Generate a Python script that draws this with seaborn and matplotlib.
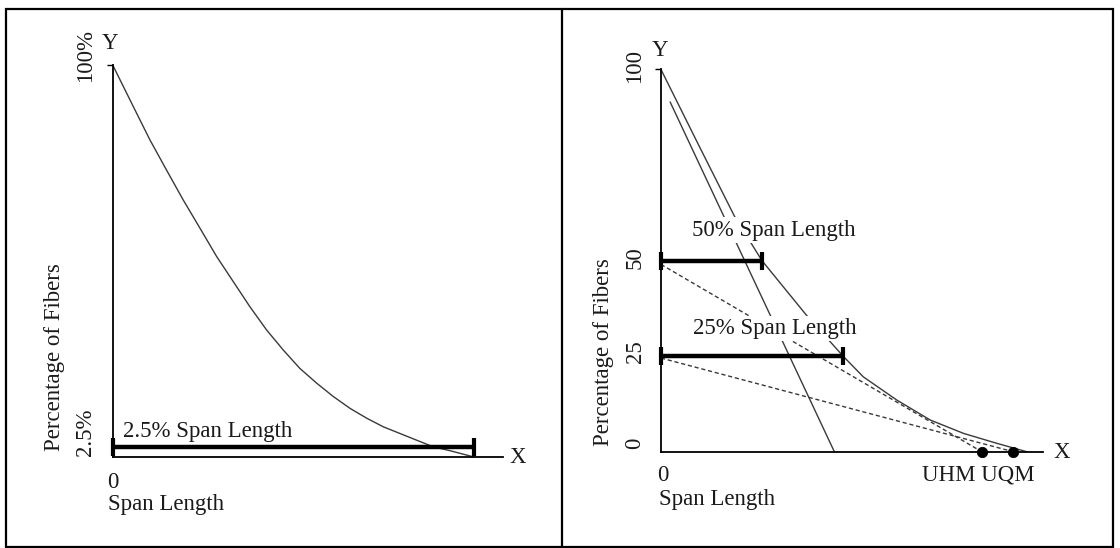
import numpy as np
import pandas as pd
import matplotlib.pyplot as plt
import seaborn as sns
from matplotlib.patches import Rectangle

# left panel: fibrogram curve (x in % of the 2.5% span length, y in % of fibers)
left_x = [0, 5.7, 10.3, 14.9, 19.5, 24.2, 28.8, 33.4, 38.0, 42.6, 47.2, 51.8,
          56.5, 61.1, 65.7, 70.3, 74.9, 79.5, 84.1, 88.7, 93.4, 100]
left_y = [100, 89.4, 80.9, 73.2, 65.6, 58.3, 51.1, 44.7, 38.3, 32.4, 27.3, 22.6,
          18.8, 15.4, 12.4, 9.9, 7.7, 6.0, 4.3, 2.6, 1.6, 0]
left_bar = (2.5, 100)          # (level, span length)

# right panel: fibrogram with tangents
right_x = [0, 10.1, 20.2, 27.6, 39.7, 49.8, 55.3, 64.5, 73.6, 82.7, 91.8, 100]
right_y = [100, 80.6, 61.4, 50, 35.8, 25, 19.6, 13.5, 8.3, 4.8, 2.2, 0]
right_bars = [(50, 27.6), (25, 49.8)]
steep_x = [2.5, 47.4]
steep_y = [91.5, 0]
uhm, uqm = 87.7, 96.3
tangent_uhm = ([0, uhm], [49, 0])
tangent_uqm = ([0, uqm], [24.5, 0])

W, H = 1120, 548
sns.set_theme(style="white")
plt.rcParams['font.family'] = ['Liberation Serif', 'DejaVu Serif']
FS = 16.5
INK = '#1a1a1a'
CURVE = '#3a3a3a'

fig = plt.figure(figsize=(W / 100, H / 100), dpi=100)


def rect(x0, sx, y0, sy, xlim, ylim):
    left = x0 + xlim[0] * sx
    right = x0 + xlim[1] * sx
    top = y0 - ylim[1] * sy
    bottom = y0 - ylim[0] * sy
    return [left / W, 1 - bottom / H, (right - left) / W, (bottom - top) / H]


XL, YL = (-20, 115), (-16, 112)
axL = fig.add_axes(rect(112.7, 3.613, 457, 3.92, XL, YL))
axR = fig.add_axes(rect(661, 3.657, 451.7, 3.822, XL, YL))


def setup(ax, xend):
    ax.set_xlim(*XL)
    ax.set_ylim(*YL)
    ax.patch.set_alpha(0)
    for s in ['top', 'right']:
        ax.spines[s].set_visible(False)
    ax.spines['left'].set_position(('data', 0))
    ax.spines['bottom'].set_position(('data', 0))
    ax.spines['left'].set_bounds(0, 100)
    ax.spines['bottom'].set_bounds(0, xend)
    for s in ['left', 'bottom']:
        ax.spines[s].set_color('black')
        ax.spines[s].set_linewidth(1.3)
    ax.set_xticks([])
    ax.set_yticks([])
    ax.set_yticks([100], minor=True)
    ax.tick_params(axis='y', which='minor', length=4.5, width=1.0,
                   color='black', left=True, direction='out')
    ax.set_xlabel('')
    ax.set_ylabel('')


def span_bar(ax, level, length):
    sns.lineplot(x=[0, length], y=[level, level], ax=ax, color='black',
                 linewidth=3.2, marker='|', markersize=13, markeredgewidth=3,
                 markeredgecolor='black', solid_capstyle='butt', zorder=4)


def txt(ax, x, y, s, masked=False, **kw):
    if masked:
        kw['bbox'] = dict(facecolor='white', edgecolor='none', pad=1.5)
        kw['zorder'] = 6
    ax.text(x, y, s, fontsize=FS, color=INK, **kw)


# ---- left panel
setup(axL, 108)
sns.lineplot(x=left_x, y=left_y, ax=axL, color=CURVE, linewidth=1.0)
span_bar(axL, *left_bar)
txt(axL, -0.75, 105.6, 'Y', ha='center', va='center')
txt(axL, 112.2, -0.25, 'X', ha='center', va='center')
txt(axL, 0.1, -6.4, '0', ha='center', va='center')
txt(axL, -1.3, -12.2, 'Span Length', ha='left', va='center')
txt(axL, 2.85, 6.4, '2.5% Span Length', ha='left', va='center')
txt(axL, -16.2, 25.5, 'Percentage of Fibers', ha='center', va='center', rotation=90)
txt(axL, -7.4, 102.3, '100%', ha='center', va='center', rotation=90)
txt(axL, -7.4, 6.4, '2.5%', ha='center', va='center', rotation=90)

# ---- right panel
setup(axR, 104.5)
sns.lineplot(x=right_x, y=right_y, ax=axR, color=CURVE, linewidth=1.0)
sns.lineplot(x=steep_x, y=steep_y, ax=axR, color=CURVE, linewidth=1.0)
for tx, ty in [tangent_uhm, tangent_uqm]:
    sns.lineplot(x=tx, y=ty, ax=axR, color=CURVE, linewidth=1.0,
                 linestyle=(0, (3, 2)))
for level, length in right_bars:
    span_bar(axR, level, length)
sns.scatterplot(x=[uhm, uqm], y=[0, 0], ax=axR, color='black', s=55,
                edgecolor='black', zorder=5)
txt(axR, -0.3, 105.1, 'Y', ha='center', va='center')
txt(axR, 109.7, -0.3, 'X', ha='center', va='center')
txt(axR, 0.6, -6.1, '0', ha='center', va='center')
txt(axR, -0.5, -12.6, 'Span Length', ha='left', va='center')
txt(axR, 86.8, -6.1, 'UHM UQM', ha='center', va='center')
txt(axR, 8.5, 58.0, '50% Span Length', masked=True, ha='left', va='center')
txt(axR, 8.8, 32.3, '25% Span Length', masked=True, ha='left', va='center')
txt(axR, -15.8, 26.0, 'Percentage of Fibers', ha='center', va='center', rotation=90)
for lab, yy in [('100', 100.9), ('50', 50.9), ('25', 26.2), ('0', 2.2)]:
    txt(axR, -7.1, yy, lab, ha='center', va='center', rotation=90)

# outer frame and divider
fig.add_artist(Rectangle((6 / W, 1 - 546.5 / H), (1113 - 6) / W, (546.5 - 9) / H,
                         transform=fig.transFigure, fill=False,
                         edgecolor='black', linewidth=1.6))
fig.add_artist(plt.Line2D([562 / W, 562 / W], [1 - 546.5 / H, 1 - 9 / H],
                          transform=fig.transFigure, color='black', linewidth=1.6))

fig.savefig('out.png', dpi=100)
